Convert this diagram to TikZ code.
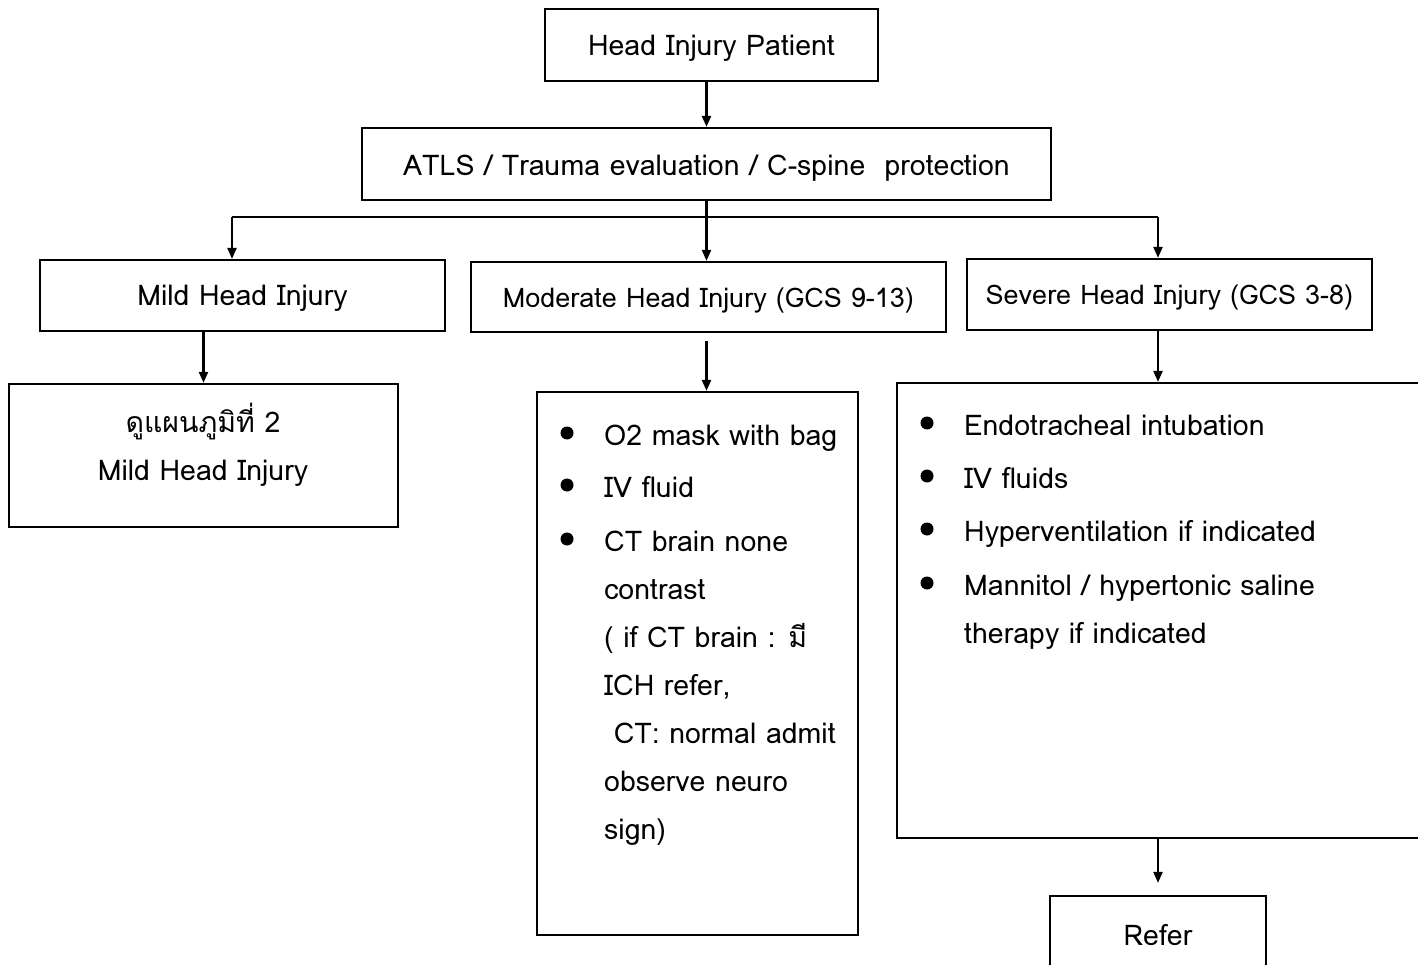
\documentclass[tikz,border=0pt]{standalone}
\usepackage{fontspec}
\setmainfont{Loma}[Script=Thai]
\usetikzlibrary{arrows.meta,calc}
\begin{document}
\begin{tikzpicture}[x=1pt,y=-1pt,
  box/.style={draw, line width=2.2pt, rectangle, inner sep=0pt, align=center,
    font=\fontsize{28.5}{32}\selectfont},
  txt/.style={inner sep=0pt, anchor=base west, font=\fontsize{28.5}{32}\selectfont},
  ctxt/.style={inner sep=0pt, anchor=base, font=\fontsize{28.5}{32}\selectfont},
  gcs/.style={ctxt, font=\fontsize{27}{32}\selectfont},
  dot/.style={circle, fill=black, inner sep=0pt, minimum size=13pt},
  link/.style={line width=2.2pt},
  arr/.style={line width=2.2pt, -{Triangle[length=11pt,width=9pt]}}]
\clip (0,0) rectangle (1418,965);
\fill[white] (0,0) rectangle (1418,965);

% top chain
\node[box, minimum width=333pt, minimum height=72pt] (head) at (711.5,45) {};
\node[box, minimum width=689pt, minimum height=72pt] (atls) at (706.5,164) {};
\node[ctxt] at (711.5,56) {Head Injury Patient};
\node[ctxt] at (706.5,176) {ATLS / Trauma evaluation / C-spine\ \ protection};

% severity level boxes
\node[box, minimum width=405pt, minimum height=71pt] (mild) at (242.5,295.5) {};
\node[box, minimum width=475pt, minimum height=70pt] (mod) at (708.5,297) {};
\node[box, minimum width=405pt, minimum height=71pt] (sev) at (1169.5,294.5) {};
\node[ctxt] at (242.5,306) {Mild Head Injury};
\node[gcs] at (708.5,308) {Moderate Head Injury (GCS 9-13)};
\node[gcs] at (1169.5,305) {Severe Head Injury (GCS 3-8)};

% management boxes
\node[box, minimum width=389pt, minimum height=143pt] (milddet) at (203.5,455.5) {};
\node[box, minimum width=321pt, minimum height=543pt] (moddet) at (697.5,663.5) {};
\node[box, minimum width=543pt, minimum height=455pt] (sevdet) at (1168.5,610.5) {};
\node[box, minimum width=216pt, minimum height=104pt] (refer) at (1158,948) {};

% mild management text
\node[ctxt] (m1) at (203,432) {ดูแผนภูมิที่ 2};
\node[ctxt] (m2) at (203,480) {Mild Head Injury};

% moderate management list
\foreach \y in {445,497,551}{\node[dot] at (567,\y-12) {};}
\node[txt] at (604,445) {O2 mask with bag};
\node[txt] at (604,497) {IV fluid};
\node[txt] at (604,551) {CT brain none};
\node[txt] at (604,599) {contrast};
\node[txt] at (604,647) {( if CT brain : มี};
\node[txt] at (604,695) {ICH refer,};
\node[txt] at (604,743) {\ CT: normal admit};
\node[txt] at (604,791) {observe neuro};
\node[txt] at (604,839) {sign)};

% severe management list
\foreach \y in {435,488,541,595}{\node[dot] at (927,\y-12) {};}
\node[txt] at (964,435) {Endotracheal intubation};
\node[txt] at (964,488) {IV fluids};
\node[txt] at (964,541) {Hyperventilation if indicated};
\node[txt] at (964,595) {Mannitol / hypertonic saline};
\node[txt] at (964,643) {therapy if indicated};

% refer text
\node[ctxt] at (1158,945) {Refer};

% connectors
\draw[arr] (atls.north |- head.south) -- (atls.north);
\coordinate (jl) at (232,217);
\coordinate (jr) at (1158,217);
\draw[link] (jl) -- (jr);
\draw[arr] (atls.south) -- (atls.south |- mod.north);
\draw[arr] (jl) -- (jl |- mild.north);
\draw[arr] (jr) -- (jr |- sev.north);
\draw[arr] (milddet.north |- mild.south) -- (milddet.north);
\draw[arr] ($(atls.south |- mod.south)+(0,8)$) -- (atls.south |- moddet.north);
\draw[arr] (refer.north |- sev.south) -- (refer.north |- sevdet.north);
\draw[arr, shorten >=12pt] (refer.north |- sevdet.south) -- (refer.north);
\end{tikzpicture}
\end{document}
